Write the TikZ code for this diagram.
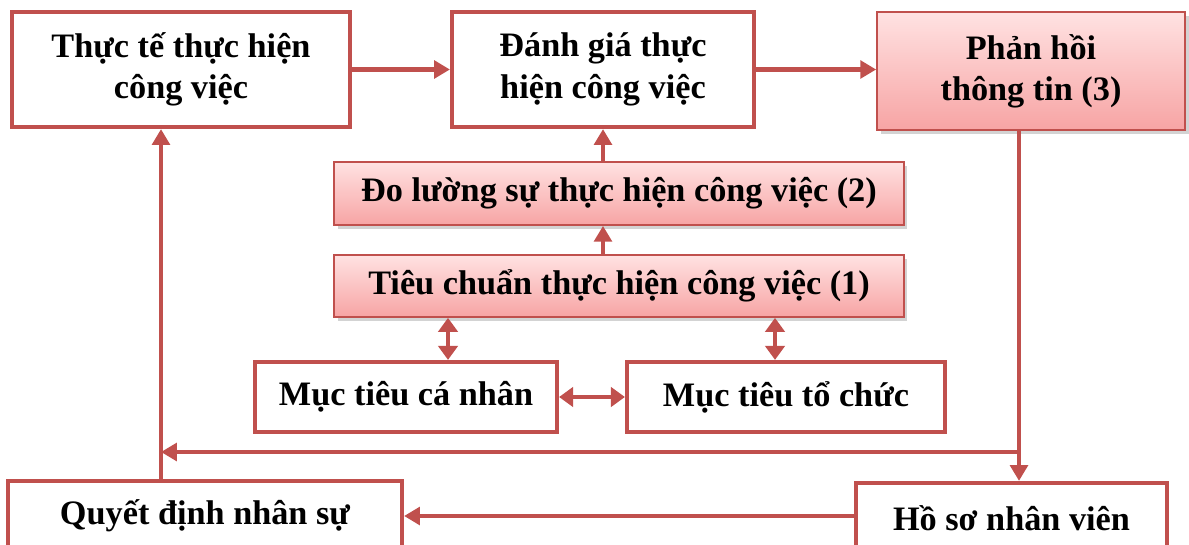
\documentclass[tikz,border=0pt]{standalone}
\usepackage{fontspec}
\setmainfont{Liberation Serif}
\usetikzlibrary{arrows.meta,shadows}

\definecolor{boxred}{HTML}{C0504D}
\definecolor{pinktop}{HTML}{FFE2E2}
\definecolor{pinkbot}{HTML}{F7A4A4}

\begin{document}
\begin{tikzpicture}[x=0.02cm, y=-0.02cm, >={Triangle[length=9pt,width=10pt]},
    font=\bfseries\fontsize{19.5}{23.5}\selectfont,
    plainbox/.style={draw=boxred, line width=2.4pt, fill=white, align=center, inner sep=2pt},
    shadebox/.style={draw=boxred, line width=1pt, top color=pinktop, bottom color=pinkbot,
      align=center, inner sep=2pt,
      drop shadow={shadow xshift=2pt, shadow yshift=-2pt, opacity=0.35}},
    link/.style={draw=boxred, line width=2.6pt},
    twoway/.style={link, {Triangle[length=8pt,width=11pt]}-{Triangle[length=8pt,width=11pt]}}]
  \useasboundingbox (0,0) rectangle (1189,544);

  % top row
  \node[plainbox, minimum width=6.76cm, minimum height=2.30cm] (real) at (181,69.5) {Thực tế thực hiện\\công việc};
  \node[plainbox, minimum width=6.04cm, minimum height=2.30cm] (eval) at (603,69.5) {Đánh giá thực\\hiện công việc};
  \node[shadebox, minimum width=6.16cm, minimum height=2.36cm] (feedback) at (1031,71) {Phản hồi\\thông tin (3)};

  % middle
  \node[shadebox, minimum width=11.4cm, minimum height=1.26cm] (measure) at (619,193.5) {Đo lường sự thực hiện công việc (2)};
  \node[shadebox, minimum width=11.4cm, minimum height=1.24cm] (standard) at (619,286) {Tiêu chuẩn thực hiện công việc (1)};
  \node[plainbox, minimum width=6.04cm, minimum height=1.40cm] (indiv) at (406,397) {Mục tiêu cá nhân};
  \node[plainbox, minimum width=6.36cm, minimum height=1.40cm] (org) at (786,397) {Mục tiêu tổ chức};

  % bottom row
  \node[plainbox, minimum width=7.88cm, minimum height=1.40cm] (decision) at (205,516) {Quyết định nhân sự};
  \node[plainbox, minimum width=6.22cm, minimum height=1.40cm] (record) at (1011.5,518) {Hồ sơ nhân viên};

  \coordinate (fe) at (448,0);
  \coordinate (ge) at (775,0);
  \coordinate (hx) at (161,0);
  \coordinate (turn) at (1019,452);

  \draw[link, ->] (real) -- (eval);
  \draw[link, ->] (eval.east |- real) -- (real -| feedback.west);
  \draw[link, ->] (measure.north -| eval.south) -- (eval.south);
  \draw[link, ->] (standard.north -| eval.south) -- (measure.south -| eval.south);
  \draw[twoway] (indiv.north -| fe) -- (standard.south -| fe);
  \draw[twoway] (org.north -| ge) -- (standard.south -| ge);
  \draw[twoway] (indiv) -- (org);
  \draw[link, ->] (feedback.south -| turn) -- (record.north -| turn);
  \draw[link, ->] (turn) -- (turn -| hx);
  \draw[link, ->] (decision.north -| hx) -- (real.south -| hx);
  \draw[link, ->] (record.west |- decision) -- (decision.east);
\end{tikzpicture}
\end{document}
